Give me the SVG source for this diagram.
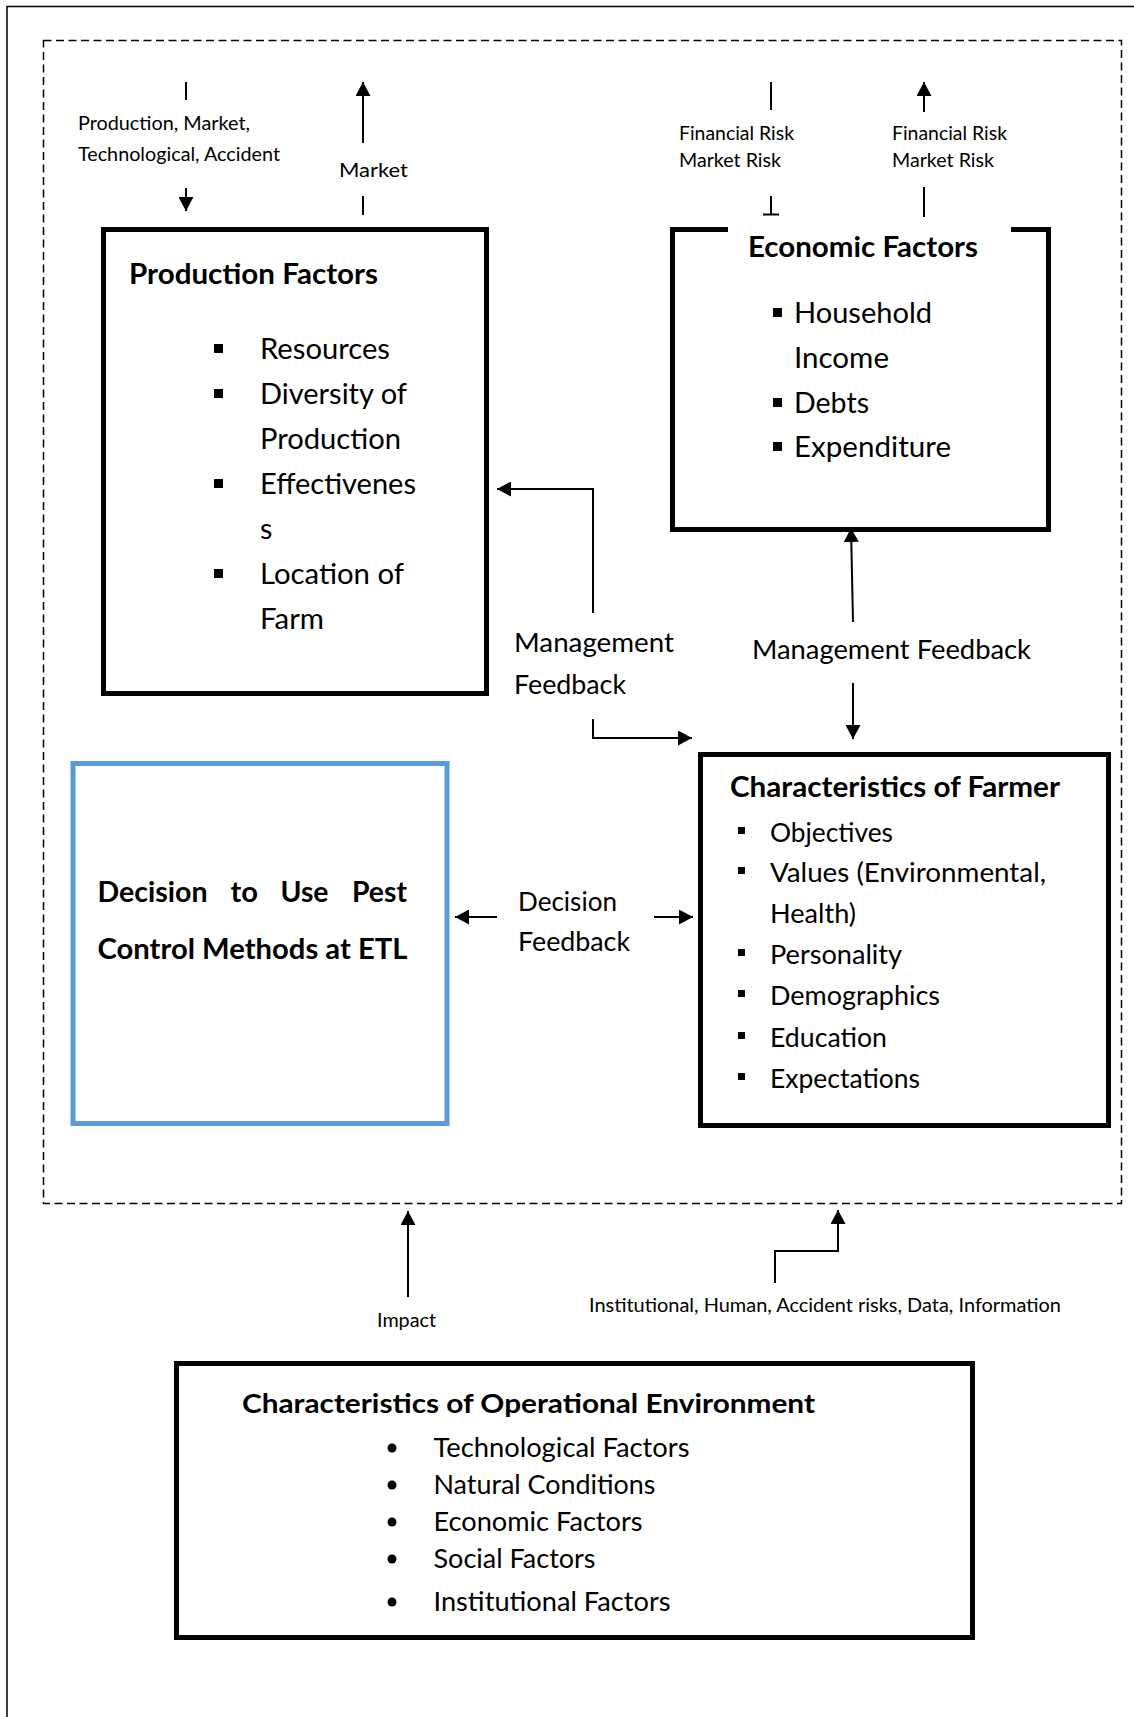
<svg xmlns="http://www.w3.org/2000/svg" width="1134" height="1717" viewBox="0 0 1134 1717">
<style>
text{font-family:Lato,"Liberation Sans",sans-serif;fill:#000}
.sm{font-size:19.5px}
.t{font-size:29px;font-weight:bold}
.it{font-size:28.5px}
.md{font-size:26.5px}
.box{fill:none;stroke:#000;stroke-width:5}
.ln{fill:none;stroke:#000;stroke-width:2}
</style>
<defs>
<marker id="ah" markerUnits="userSpaceOnUse" markerWidth="15" markerHeight="15" refX="14" refY="7.5" orient="auto">
<path d="M0,0 L14,7.5 L0,15 z" fill="#000"/>
</marker>
</defs>
<rect x="0" y="0" width="1134" height="1717" fill="#fff"/>
<rect id="frame" x="7" y="6.5" width="1140" height="1720" fill="none" stroke="#000" stroke-width="1.5"/>
<rect id="scope" x="43.5" y="40.5" width="1078" height="1163" fill="none" stroke="#000" stroke-width="1.5" stroke-dasharray="8 4.5"/>

<g id="production-factors">
<rect class="box" x="103.5" y="229.5" width="383" height="464"/>
<text class="t" x="129" y="284" textLength="249" lengthAdjust="spacingAndGlyphs">Production Factors</text>
<rect x="214" y="344" width="9" height="9"/>
<text class="it" x="260" y="359" textLength="130" lengthAdjust="spacingAndGlyphs">Resources</text>
<rect x="214" y="389" width="9" height="9"/>
<text class="it" x="260" y="404" textLength="147" lengthAdjust="spacingAndGlyphs">Diversity of</text>
<text class="it" x="260" y="449" textLength="141" lengthAdjust="spacingAndGlyphs">Production</text>
<rect x="214" y="479" width="9" height="9"/>
<text class="it" x="260" y="494" textLength="156" lengthAdjust="spacingAndGlyphs">Effectivenes</text>
<text class="it" x="260" y="539">s</text>
<rect x="214" y="569" width="9" height="9"/>
<text class="it" x="260" y="584" textLength="144" lengthAdjust="spacingAndGlyphs">Location of</text>
<text class="it" x="260" y="629" textLength="64" lengthAdjust="spacingAndGlyphs">Farm</text>
</g>

<g id="economic-factors">
<path class="box" d="M728,229.5 H672.5 V529.5 H1048.5 V229.5 H1011"/>
<text class="t" x="748" y="257" textLength="230" lengthAdjust="spacingAndGlyphs">Economic Factors</text>
<rect x="773" y="308" width="9" height="9"/>
<text class="it" x="794" y="323" textLength="138" lengthAdjust="spacingAndGlyphs">Household</text>
<text class="it" x="794" y="368" textLength="95" lengthAdjust="spacingAndGlyphs">Income</text>
<rect x="773" y="398" width="9" height="9"/>
<text class="it" x="794" y="413" textLength="75" lengthAdjust="spacingAndGlyphs">Debts</text>
<rect x="773" y="442" width="9" height="9"/>
<text class="it" x="794" y="457" textLength="157" lengthAdjust="spacingAndGlyphs">Expenditure</text>
</g>

<g id="decision">
<rect x="73" y="763.5" width="374" height="360" fill="none" stroke="#5B9BD5" stroke-width="5"/>
<text class="t" x="97.5" y="902" textLength="110" lengthAdjust="spacingAndGlyphs">Decision</text>
<text class="t" x="230.5" y="902" textLength="27.5" lengthAdjust="spacingAndGlyphs">to</text>
<text class="t" x="280.5" y="902" textLength="48" lengthAdjust="spacingAndGlyphs">Use</text>
<text class="t" x="352" y="902" textLength="55" lengthAdjust="spacingAndGlyphs">Pest</text>
<text class="t" x="97.5" y="959" textLength="310" lengthAdjust="spacingAndGlyphs">Control Methods at ETL</text>
</g>

<g id="farmer">
<rect class="box" x="700.5" y="754.5" width="408" height="371"/>
<text class="t" x="730" y="797" textLength="330" lengthAdjust="spacingAndGlyphs">Characteristics of Farmer</text>
<rect x="738" y="827" width="7" height="7"/>
<text class="md" x="770" y="842" textLength="123" lengthAdjust="spacingAndGlyphs">Objectives</text>
<rect x="738" y="867" width="7" height="7"/>
<text class="md" x="770" y="882" textLength="276" lengthAdjust="spacingAndGlyphs">Values (Environmental,</text>
<text class="md" x="770" y="923" textLength="86" lengthAdjust="spacingAndGlyphs">Health)</text>
<rect x="738" y="949" width="7" height="7"/>
<text class="md" x="770" y="964" textLength="132" lengthAdjust="spacingAndGlyphs">Personality</text>
<rect x="738" y="990" width="7" height="7"/>
<text class="md" x="770" y="1005" textLength="170" lengthAdjust="spacingAndGlyphs">Demographics</text>
<rect x="738" y="1032" width="7" height="7"/>
<text class="md" x="770" y="1047" textLength="117" lengthAdjust="spacingAndGlyphs">Education</text>
<rect x="738" y="1073" width="7" height="7"/>
<text class="md" x="770" y="1088" textLength="150" lengthAdjust="spacingAndGlyphs">Expectations</text>
</g>

<g id="operational-environment">
<rect class="box" x="176.5" y="1363.5" width="796" height="274"/>
<text class="t" x="242" y="1413" style="font-size:27px" textLength="573" lengthAdjust="spacingAndGlyphs">Characteristics of Operational Environment</text>
<circle cx="392" cy="1448" r="4.5"/>
<text class="md" x="433.5" y="1457" textLength="256" lengthAdjust="spacingAndGlyphs">Technological Factors</text>
<circle cx="392" cy="1485" r="4.5"/>
<text class="md" x="433.5" y="1494" textLength="222" lengthAdjust="spacingAndGlyphs">Natural Conditions</text>
<circle cx="392" cy="1522" r="4.5"/>
<text class="md" x="433.5" y="1531" textLength="209" lengthAdjust="spacingAndGlyphs">Economic Factors</text>
<circle cx="392" cy="1559" r="4.5"/>
<text class="md" x="433.5" y="1568" textLength="162" lengthAdjust="spacingAndGlyphs">Social Factors</text>
<circle cx="392" cy="1602" r="4.5"/>
<text class="md" x="433.5" y="1611" textLength="237" lengthAdjust="spacingAndGlyphs">Institutional Factors</text>
</g>

<g id="connectors">
<line class="ln" x1="186" y1="82" x2="186" y2="100"/>
<line class="ln" x1="186" y1="188" x2="186" y2="211" marker-end="url(#ah)"/>
<line class="ln" x1="363" y1="143" x2="363" y2="82" marker-end="url(#ah)"/>
<line class="ln" x1="363" y1="196" x2="363" y2="215"/>
<line class="ln" x1="771" y1="82" x2="771" y2="110"/>
<line class="ln" x1="771" y1="196" x2="771" y2="215"/>
<line class="ln" x1="763" y1="214.5" x2="779" y2="214.5"/>
<line class="ln" x1="924" y1="112" x2="924" y2="82" marker-end="url(#ah)"/>
<line class="ln" x1="924" y1="187" x2="924" y2="217"/>
<polyline class="ln" points="593,613 593,489 497,489" marker-end="url(#ah)"/>
<polyline class="ln" points="593,719 593,738 692,738" marker-end="url(#ah)"/>
<line class="ln" x1="853" y1="622" x2="851" y2="528" marker-end="url(#ah)"/>
<line class="ln" x1="853" y1="683" x2="853" y2="739" marker-end="url(#ah)"/>
<line class="ln" x1="497" y1="917" x2="455" y2="917" marker-end="url(#ah)"/>
<line class="ln" x1="654" y1="917" x2="693" y2="917" marker-end="url(#ah)"/>
<line class="ln" x1="408" y1="1297" x2="408" y2="1211" marker-end="url(#ah)"/>
<polyline class="ln" points="775,1283 775,1251 838,1251 838,1210" marker-end="url(#ah)"/>
</g>

<g id="labels">
<text class="sm" x="78" y="130" textLength="172" lengthAdjust="spacingAndGlyphs">Production, Market,</text>
<text class="sm" x="78" y="161" textLength="202" lengthAdjust="spacingAndGlyphs">Technological, Accident</text>
<text class="sm" x="339" y="177" textLength="69" lengthAdjust="spacingAndGlyphs">Market</text>
<text class="sm" x="679" y="140" textLength="115" lengthAdjust="spacingAndGlyphs">Financial Risk</text>
<text class="sm" x="679" y="167" textLength="102" lengthAdjust="spacingAndGlyphs">Market Risk</text>
<text class="sm" x="892" y="140" textLength="115" lengthAdjust="spacingAndGlyphs">Financial Risk</text>
<text class="sm" x="892" y="167" textLength="102" lengthAdjust="spacingAndGlyphs">Market Risk</text>
<text class="md" x="514" y="652" textLength="160" lengthAdjust="spacingAndGlyphs">Management</text>
<text class="md" x="514" y="694" textLength="112" lengthAdjust="spacingAndGlyphs">Feedback</text>
<text class="md" x="752" y="659" textLength="279" lengthAdjust="spacingAndGlyphs">Management Feedback</text>
<text class="md" x="518" y="911" textLength="99" lengthAdjust="spacingAndGlyphs">Decision</text>
<text class="md" x="518" y="951" textLength="112" lengthAdjust="spacingAndGlyphs">Feedback</text>
<text class="sm" x="377" y="1327" textLength="59" lengthAdjust="spacingAndGlyphs">Impact</text>
<text class="sm" x="589" y="1312" textLength="472" lengthAdjust="spacingAndGlyphs">Institutional, Human, Accident risks, Data, Information</text>
</g>
</svg>
